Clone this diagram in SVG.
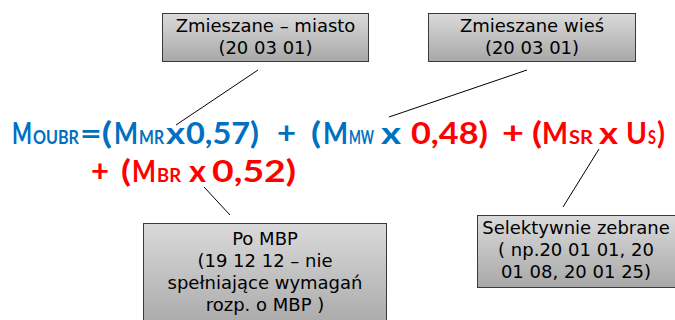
<svg xmlns="http://www.w3.org/2000/svg" width="675" height="320" viewBox="0 0 675 320">
<style>
.box{fill:url(#g);stroke:#3a3a3a;stroke-width:1}
.bt{font-family:"DejaVu Sans",sans-serif;font-size:18px;fill:#000;text-anchor:middle}
.f{font-family:Lato,"Liberation Sans",sans-serif;font-weight:bold;font-size:31px}
.s{font-size:19.5px}
.b{fill:#0070C0}
.r{fill:#FF0000}
.ln{stroke:#000;stroke-width:1;fill:none}
</style>
<defs>
<linearGradient id="g" x1="0" y1="0" x2="0" y2="1">
<stop offset="0" stop-color="#dadada"/>
<stop offset="1" stop-color="#a8a8a8"/>
</linearGradient>
</defs>
<g id="connectors">
<line class="ln" x1="258" y1="70" x2="176" y2="125"/>
<line class="ln" x1="527" y1="70" x2="389" y2="117"/>
<line class="ln" x1="204" y1="187" x2="230" y2="215"/>
<line class="ln" x1="599" y1="149" x2="563" y2="207"/>
</g>
<g id="box-miasto">
<rect class="box" x="162.5" y="13.5" width="206" height="48"/>
<text class="bt" x="265.5" y="32">Zmieszane – miasto</text>
<text class="bt" x="265.5" y="54">(20 03 01)</text>
</g>
<g id="box-wies">
<rect class="box" x="428.5" y="13.5" width="207" height="48"/>
<text class="bt" x="532" y="32">Zmieszane wieś</text>
<text class="bt" x="532" y="54">(20 03 01)</text>
</g>
<g id="box-mbp">
<rect class="box" x="143.5" y="223.5" width="243" height="105"/>
<text class="bt" x="265" y="245">Po MBP</text>
<text class="bt" x="265" y="267">(19 12 12 – nie</text>
<text class="bt" x="265" y="289">spełniające wymagań</text>
<text class="bt" x="265" y="311">rozp. o MBP )</text>
</g>
<g id="box-selektywnie">
<rect class="box" x="477.5" y="215.5" width="200" height="72"/>
<text class="bt" x="576" y="234">Selektywnie zebrane</text>
<text class="bt" x="576" y="256">( np.20 01 01, 20</text>
<text class="bt" x="576" y="278">01 08, 20 01 25)</text>
</g>
<g id="formula">
<text class="f b" x="12" y="144" textLength="20" lengthAdjust="spacingAndGlyphs">M</text>
<text class="f b s" x="33" y="144" textLength="46" lengthAdjust="spacingAndGlyphs">OUBR</text>
<text class="f b" x="80" y="144" textLength="32" lengthAdjust="spacingAndGlyphs">=(</text>
<text class="f b" x="114" y="144" textLength="24" lengthAdjust="spacingAndGlyphs">M</text>
<text class="f b s" x="139" y="144" textLength="25" lengthAdjust="spacingAndGlyphs">MR</text>
<text class="f b" x="166" y="144" textLength="19" lengthAdjust="spacingAndGlyphs">x</text>
<text class="f b" x="186" y="144" textLength="73" lengthAdjust="spacingAndGlyphs">0,57)</text>
<text class="f b" x="277" y="144" textLength="19" lengthAdjust="spacingAndGlyphs">+</text>
<text class="f b" x="311" y="144" textLength="10" lengthAdjust="spacingAndGlyphs">(</text>
<text class="f b" x="323" y="144" textLength="25" lengthAdjust="spacingAndGlyphs">M</text>
<text class="f b s" x="349" y="144" textLength="25" lengthAdjust="spacingAndGlyphs">MW</text>
<text class="f b" x="381" y="144" textLength="20" lengthAdjust="spacingAndGlyphs">x</text>
<text class="f r" x="411" y="144" textLength="77" lengthAdjust="spacingAndGlyphs">0,48)</text>
<text class="f r" x="502" y="144" textLength="22" lengthAdjust="spacingAndGlyphs">+</text>
<text class="f r" x="532" y="144" textLength="10" lengthAdjust="spacingAndGlyphs">(</text>
<text class="f r" x="542" y="144" textLength="26" lengthAdjust="spacingAndGlyphs">M</text>
<text class="f r s" x="569" y="144" textLength="24" lengthAdjust="spacingAndGlyphs">SR</text>
<text class="f r" x="599" y="144" textLength="19" lengthAdjust="spacingAndGlyphs">x</text>
<text class="f r" x="626" y="144" textLength="21" lengthAdjust="spacingAndGlyphs">U</text>
<text class="f r s" x="648" y="144" textLength="8" lengthAdjust="spacingAndGlyphs">S</text>
<text class="f r" x="657" y="144" textLength="8" lengthAdjust="spacingAndGlyphs">)</text>
<text class="f r" x="91" y="182" textLength="18" lengthAdjust="spacingAndGlyphs">+</text>
<text class="f r" x="121" y="182" textLength="10" lengthAdjust="spacingAndGlyphs">(</text>
<text class="f r" x="132" y="182" textLength="24" lengthAdjust="spacingAndGlyphs">M</text>
<text class="f r s" x="157" y="182" textLength="24" lengthAdjust="spacingAndGlyphs">BR</text>
<text class="f r" x="189" y="182" textLength="17" lengthAdjust="spacingAndGlyphs">x</text>
<text class="f r" x="212" y="182" textLength="84" lengthAdjust="spacingAndGlyphs">0,52)</text>
</g>
</svg>
